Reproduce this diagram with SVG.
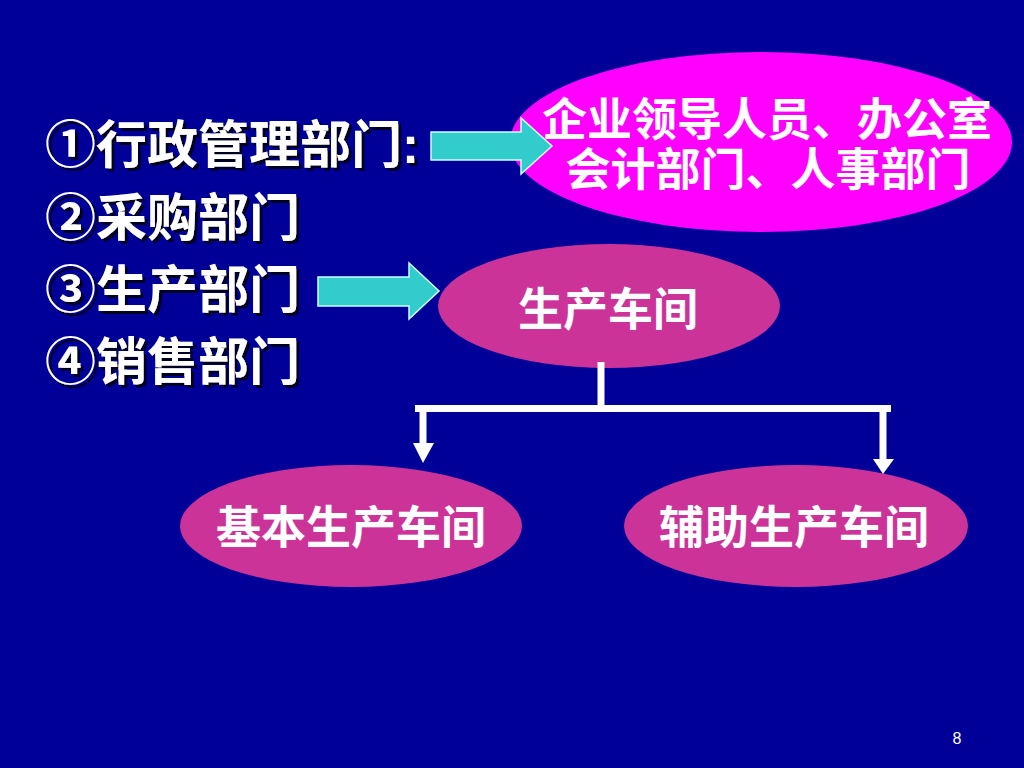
<svg xmlns="http://www.w3.org/2000/svg" width="1024" height="768" viewBox="0 0 1024 768">
<defs>
<filter id="shadow" x="-5%" y="-20%" width="110%" height="150%">
<feDropShadow dx="3" dy="3" stdDeviation="0.6" flood-color="#000022" flood-opacity="1"/>
</filter>
</defs>
<style>
.t{font-family:"Liberation Sans","Noto Sans CJK SC",sans-serif;font-weight:bold;fill:#ffffff}
.big{font-size:51px;filter:url(#shadow)}
.mid{font-size:45px;text-anchor:middle}
.arr{fill:#33CCCC;stroke:#CCFFFF;stroke-width:1.5}
.ln{stroke:#ffffff;stroke-width:7;fill:none}
.hd{fill:#ffffff}
</style>
<rect width="1024" height="768" fill="#000099"/>
<g id="list">
<text class="t big" x="45" y="163">①行政管理部门:</text>
<text class="t big" x="45" y="236">②采购部门</text>
<text class="t big" x="45" y="308">③生产部门</text>
<text class="t big" x="45" y="380">④销售部门</text>
</g>
<g id="node-admin">
<ellipse cx="761" cy="142" rx="251" ry="90" fill="#FF00FF"/>
<text class="t mid" x="767" y="136">企业领导人员、办公室</text>
<text class="t mid" x="768" y="186">会计部门、人事部门</text>
</g>
<g id="node-workshop">
<ellipse cx="609" cy="306" rx="171" ry="62" fill="#CC3399"/>
<text class="t mid" x="608" y="326">生产车间</text>
</g>
<g id="node-basic">
<ellipse cx="351" cy="526" rx="171" ry="61" fill="#CC3399"/>
<text class="t mid" x="351" y="544">基本生产车间</text>
</g>
<g id="node-aux">
<ellipse cx="796" cy="526" rx="172" ry="61" fill="#CC3399"/>
<text class="t mid" x="794" y="544">辅助生产车间</text>
</g>
<g id="connectors">
<polygon class="arr" points="431,132 521,132 521,118 552,146 521,174 521,160 431,160"/>
<polygon class="arr" points="318,277 409,277 409,263 439,291 409,319 409,306 318,306"/>
<line class="ln" x1="601" y1="362" x2="601" y2="408"/>
<line class="ln" x1="415" y1="408.5" x2="891" y2="408.5"/>
<line class="ln" x1="423" y1="408" x2="423" y2="445"/>
<polygon class="hd" points="413,443 434,443 423,463"/>
<line class="ln" x1="883" y1="408" x2="883" y2="461"/>
<polygon class="hd" points="873,459 894,459 883,474"/>
</g>
<text x="957" y="744" font-family="Liberation Sans, sans-serif" font-size="16" fill="#ffffff" text-anchor="middle">8</text>
</svg>
